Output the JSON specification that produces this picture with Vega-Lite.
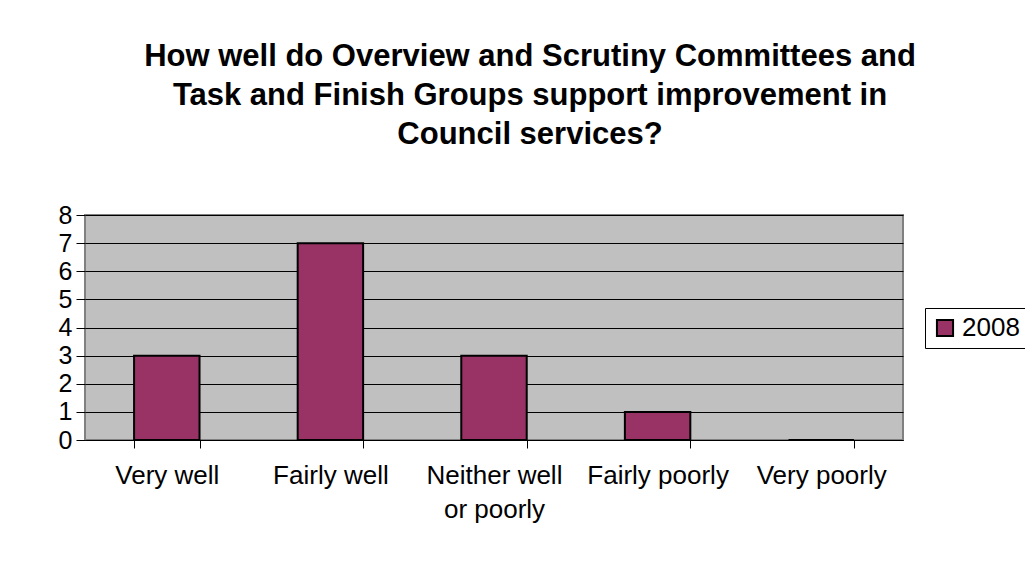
{
  "$schema": "https://vega.github.io/schema/vega-lite/v6.json",
  "autosize": {"type": "none"},
  "padding": {"left": 85, "top": 215, "right": 122, "bottom": 123},
  "width": 818,
  "height": 225,
  "background": "white",
  "title": {
    "text": ["How well do Overview and Scrutiny Committees and", "Task and Finish Groups support improvement in", "Council services?"],
    "font": "Liberation Sans",
    "fontSize": 31,
    "fontWeight": "bold",
    "color": "black",
    "anchor": "middle",
    "dx": 36,
    "lineHeight": 39,
    "offset": 52
  },
  "data": {
    "values": [
      {"response": "Very well", "year": "2008", "count": 3},
      {"response": "Fairly well", "year": "2008", "count": 7},
      {"response": "Neither well or poorly", "year": "2008", "count": 3},
      {"response": "Fairly poorly", "year": "2008", "count": 1},
      {"response": "Very poorly", "year": "2008", "count": 0}
    ]
  },
  "mark": {"type": "bar", "stroke": "black", "strokeWidth": 2},
  "encoding": {
    "x": {
      "field": "response",
      "type": "nominal",
      "sort": null,
      "scale": {"paddingInner": 0.6, "paddingOuter": 0.3},
      "axis": {
        "title": null,
        "labelAngle": 0,
        "labelFont": "Liberation Sans",
        "labelFontSize": 26,
        "labelColor": "black",
        "labelPadding": 14,
        "labelLineHeight": 34,
        "labelExpr": "datum.value == 'Neither well or poorly' ? ['Neither well', 'or poorly'] : datum.value",
        "domainColor": "black",
        "tickColor": "black",
        "tickSize": 8,
        "tickBand": "extent",
        "grid": false
      }
    },
    "y": {
      "field": "count",
      "type": "quantitative",
      "scale": {"domain": [0, 8], "nice": false},
      "axis": {
        "title": null,
        "values": [0, 1, 2, 3, 4, 5, 6, 7, 8],
        "labelFont": "Liberation Sans",
        "labelFontSize": 25,
        "labelColor": "black",
        "labelPadding": 4,
        "tickColor": "black",
        "tickSize": 9,
        "domain": false,
        "grid": true,
        "gridColor": "black",
        "gridOpacity": 1,
        "gridWidth": 1
      }
    },
    "fill": {
      "field": "year",
      "type": "nominal",
      "scale": {"range": ["#993366"]},
      "legend": {
        "title": null,
        "orient": "none",
        "legendX": 840,
        "legendY": 93,
        "symbolType": "square",
        "symbolSize": 260,
        "symbolStrokeColor": "black",
        "symbolStrokeWidth": 2,
        "labelFont": "Liberation Sans",
        "labelFontSize": 26,
        "labelColor": "black",
        "strokeColor": "black",
        "fillColor": "white",
        "padding": 7
      }
    }
  },
  "config": {
    "view": {"fill": "#C0C0C0", "stroke": "#808080", "strokeWidth": 2}
  }
}
